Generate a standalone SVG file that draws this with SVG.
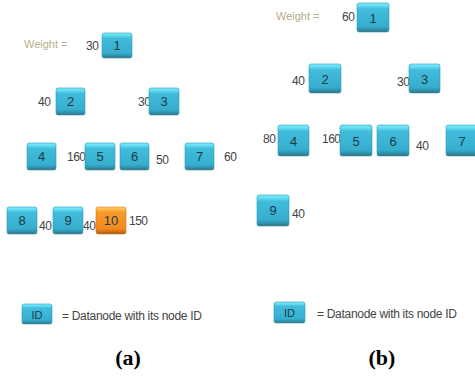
<svg xmlns="http://www.w3.org/2000/svg" width="475" height="379" viewBox="0 0 475 379">
<defs>
<linearGradient id="gBlue" x1="0" y1="0" x2="0" y2="1">
<stop offset="0" stop-color="#7eeefa"/>
<stop offset="0.12" stop-color="#5fd6ee"/>
<stop offset="0.2" stop-color="#42bcdc"/>
<stop offset="0.8" stop-color="#36aecf"/>
<stop offset="0.92" stop-color="#2f8fa8"/>
<stop offset="1" stop-color="#3d6c78"/>
</linearGradient>
<linearGradient id="gOrange" x1="0" y1="0" x2="0" y2="1">
<stop offset="0" stop-color="#ffd27a"/>
<stop offset="0.12" stop-color="#fbb040"/>
<stop offset="0.2" stop-color="#f79a2a"/>
<stop offset="0.8" stop-color="#f28a1e"/>
<stop offset="0.92" stop-color="#d06e12"/>
<stop offset="1" stop-color="#8a5a2a"/>
</linearGradient>
<style>
.n rect{fill:url(#gBlue);stroke:#2e9ab8;stroke-width:0.6}
.n.o rect{fill:url(#gOrange);stroke:#d97a16}
.n text{font-family:"Liberation Sans",Arial,sans-serif;font-size:13px;fill:#1d3a44;text-anchor:middle}
.w{font-family:"Liberation Sans",Arial,sans-serif;font-size:12px;fill:#444;letter-spacing:-0.5px}
.wt{font-family:"Liberation Sans",Arial,sans-serif;font-size:11px;fill:#b5ad85}
.lg{font-family:"Liberation Sans",Arial,sans-serif;font-size:12px;fill:#444;letter-spacing:-0.3px}
.cap{font-family:"Liberation Serif","Times New Roman",serif;font-size:22px;font-weight:bold;fill:#000;text-anchor:middle}
</style>
</defs>
<rect width="475" height="379" fill="#fff"/>

<!-- Panel (a) -->
<g id="panel-a">
<text class="wt" x="24" y="48">Weight =</text>
<text class="w" x="86" y="50">30</text>
<text class="w" x="38" y="106">40</text>
<text class="w" x="138" y="106">30</text>
<text class="w" x="67" y="161">160</text>
<text class="w" x="156" y="164">50</text>
<text class="w" x="224" y="161">60</text>
<text class="w" x="39" y="230">40</text>
<text class="w" x="83" y="230">40</text>
<text class="w" x="129" y="225">150</text>
</g>
<g id="a-node1" class="n"><rect x="102" y="33" width="30" height="25" rx="2"/><text x="117" y="50">1</text></g>
<g id="a-node2" class="n"><rect x="56" y="88" width="29" height="27" rx="2"/><text x="70.5" y="106">2</text></g>
<g id="a-node3" class="n"><rect x="149" y="88" width="30" height="27" rx="2"/><text x="164" y="106">3</text></g>
<g id="a-node4" class="n"><rect x="27" y="143" width="29" height="27" rx="2"/><text x="41.5" y="161">4</text></g>
<g id="a-node5" class="n"><rect x="85" y="143" width="30" height="27" rx="2"/><text x="100" y="161">5</text></g>
<g id="a-node6" class="n"><rect x="120" y="143" width="29" height="27" rx="2"/><text x="134.5" y="161">6</text></g>
<g id="a-node7" class="n"><rect x="185" y="143" width="29" height="27" rx="2"/><text x="199.5" y="161">7</text></g>
<g id="a-node8" class="n"><rect x="7" y="207" width="30" height="27" rx="2"/><text x="22" y="225">8</text></g>
<g id="a-node9" class="n"><rect x="53" y="207" width="30" height="27" rx="2"/><text x="68" y="225">9</text></g>
<g id="a-node10" class="n o"><rect x="96" y="207" width="30" height="27" rx="2"/><text x="111" y="225">10</text></g>

<!-- Panel (b) -->
<g id="panel-b">
<text class="wt" x="276" y="20">Weight =</text>
<text class="w" x="342" y="21">60</text>
<text class="w" x="292" y="85">40</text>
<text class="w" x="397" y="86">30</text>
<text class="w" x="263" y="143">80</text>
<text class="w" x="322" y="143">160</text>
<text class="w" x="416" y="150">40</text>
<text class="w" x="292" y="218">40</text>
</g>
<g id="b-node1" class="n"><rect x="357" y="3" width="32" height="29" rx="2"/><text x="373" y="23">1</text></g>
<g id="b-node2" class="n"><rect x="309" y="64" width="32" height="29" rx="2"/><text x="325" y="84">2</text></g>
<g id="b-node3" class="n"><rect x="409" y="64" width="31" height="29" rx="2"/><text x="424.5" y="84">3</text></g>
<g id="b-node4" class="n"><rect x="278" y="125" width="31" height="31" rx="2"/><text x="293.5" y="146">4</text></g>
<g id="b-node5" class="n"><rect x="340" y="125" width="32" height="31" rx="2"/><text x="356" y="146">5</text></g>
<g id="b-node6" class="n"><rect x="377" y="125" width="32" height="31" rx="2"/><text x="393" y="146">6</text></g>
<g id="b-node7" class="n"><rect x="446" y="125" width="32" height="31" rx="2"/><text x="462" y="146">7</text></g>
<g id="b-node9" class="n"><rect x="257" y="195" width="32" height="31" rx="2"/><text x="273" y="215">9</text></g>

<g id="connectors"></g>

<!-- Legends -->
<g id="legend-a">
<g class="n"><rect x="22" y="304" width="30" height="20" rx="2"/><text x="37" y="319" style="font-size:11px">ID</text></g>
<text class="lg" x="62" y="320">= Datanode with its node ID</text>
</g>
<g id="legend-b">
<g class="n"><rect x="274" y="302" width="31" height="21" rx="2"/><text x="289.5" y="317" style="font-size:11px">ID</text></g>
<text class="lg" x="317" y="318">= Datanode with its node ID</text>
</g>
<text class="cap" x="128" y="365">(a)</text>
<text class="cap" x="382" y="365">(b)</text>
</svg>
